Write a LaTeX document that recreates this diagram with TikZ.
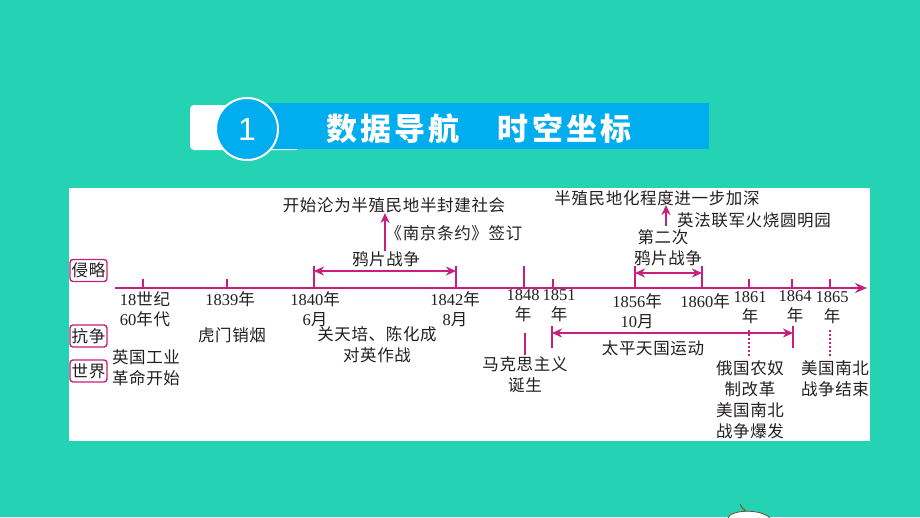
\documentclass[tikz,border=0pt]{standalone}
\usepackage{fontspec}
\setmainfont{Liberation Serif}
\newfontfamily\cjk{Noto Sans CJK SC}[LetterSpace=4]
\newfontfamily\cjkhead{Noto Sans CJK SC}[LetterSpace=10]
\newfontfamily\hsans{Liberation Sans}
\usetikzlibrary{arrows.meta}
\definecolor{bgteal}{RGB}{35,211,180}
\definecolor{barblue}{RGB}{0,174,239}
\definecolor{mag}{RGB}{200,30,125}
\definecolor{ink}{RGB}{35,31,32}
\tikzset{
  lbl/.style={font=\fontsize{16.5}{21}\selectfont\cjk, text=ink, inner sep=0pt, align=center},
  numlbl/.style={font=\fontsize{16.5}{20}\selectfont, text=ink, inner sep=0pt, align=center},
  tag/.style={draw=mag, line width=1.4pt, rounded corners=3pt, fill=white, minimum width=37pt, minimum height=22pt, inner sep=0pt, font=\fontsize{16.5}{17}\selectfont\cjk, text=ink},
  tickline/.style={draw=mag, line width=1.8pt},
  darrow/.style={draw=mag, line width=1.8pt, {Stealth[length=10pt,width=9pt]}-{Stealth[length=10pt,width=9pt]}},
  uparrow/.style={draw=mag, line width=1.8pt, -{Stealth[length=10pt,width=9pt]}},
  dotline/.style={draw=mag, line width=1.6pt, dash pattern=on 2pt off 2pt},
}
\begin{document}
\begin{tikzpicture}[x=1pt,y=-1pt]
\fill[bgteal] (0,0) rectangle (920,517);
\useasboundingbox (0,0) rectangle (920,517);
% header
\fill[white, rounded corners=4pt] (190,105) rectangle (300,150);
\fill[barblue] (262,103) rectangle (709,149);
\node[circle, fill=barblue, draw=white, line width=2pt, minimum size=62pt, inner sep=0pt, text=white, font=\hsans\fontsize{32}{32}\selectfont] (num) at (247,129) {1};
\node[text=white, inner sep=0pt, font=\cjkhead\bfseries\fontsize{31}{31}\selectfont] (title) at (479,129) {数据导航\hspace{38pt}时空坐标};
% panel
\fill[white] (69,188) rectangle (870,441);
% tags
\node[tag] (qinlue) at (88.5,270.5) {侵略};
\node[tag] (kangzheng) at (88.5,336) {抗争};
\node[tag] (shijie) at (88.5,371) {世界};
% axis
\coordinate (axs) at (115,288);
\coordinate (axe) at (867,288);
\draw[draw=mag, line width=1.8pt, -{Stealth[length=12pt,width=10pt]}] (axs) -- (axe);
% tick coordinates
\coordinate (t18) at (143,288);
\coordinate (t1839) at (227,288);
\coordinate (t1840) at (314,288);
\coordinate (t1842) at (456,288);
\coordinate (t1848) at (524,288);
\coordinate (t1851) at (553,288);
\coordinate (t1856) at (635,288);
\coordinate (t1860) at (702,288);
\coordinate (t1861) at (749,288);
\coordinate (t1864) at (792,288);
\coordinate (t1865) at (830,288);
\foreach \t in {t18,t1839,t1851,t1861,t1864,t1865}
  \draw[tickline] (\t) -- ++(0,-9);
\foreach \t in {t1840,t1842,t1848,t1856,t1860}
  \draw[tickline] (\t) -- ++(0,-22);
% first opium war
\coordinate (ow1a) at (314,271);
\coordinate (ow1b) at (456,271);
\draw[darrow] (ow1a) -- (ow1b);
\node[lbl] (ow1) at (386,259) {鸦片战争};
\node[lbl] (semi) at (394,205) {开始沦为半殖民地半封建社会};
\node[lbl] (nanjing) at (454,233) {《南京条约》签订};
\coordinate (up1s) at (385,251);
\coordinate (up1e) at (385,213);
\draw[uparrow] (up1s) -- (up1e);
% second opium war
\coordinate (ow2a) at (635,273);
\coordinate (ow2b) at (702,273);
\draw[darrow] (ow2a) -- (ow2b);
\node[lbl] (ow2) at (668,258) {鸦片战争};
\node[lbl] (dier) at (663,237) {第二次};
\node[lbl] (deep) at (657,198) {半殖民地化程度进一步加深};
\node[lbl] (yuanming) at (754,220) {英法联军火烧圆明园};
\coordinate (up2s) at (666,226);
\coordinate (up2e) at (666,205);
\draw[uparrow] (up2s) -- (up2e);
% date labels
\node[numlbl] (d18) at (145,309) {18{\cjk 世纪}\\60{\cjk 年代}};
\node[numlbl] (d1839) at (230,299) {1839{\cjk 年}};
\node[numlbl] (d1840) at (315,309) {1840{\cjk 年}\\6{\cjk 月}};
\node[numlbl] (d1842) at (455,309) {1842{\cjk 年}\\8{\cjk 月}};
\node[numlbl] (d1848) at (523,306) {1848\\{\cjk 年}};
\node[numlbl] (d1851) at (559,306) {1851\\{\cjk 年}};
\node[numlbl] (d1856) at (637,311) {1856{\cjk 年}\\10{\cjk 月}};
\node[numlbl] (d1860) at (705,301) {1860{\cjk 年}};
\node[numlbl] (d1861) at (750,308) {1861\\{\cjk 年}};
\node[numlbl] (d1864) at (795,307) {1864\\{\cjk 年}};
\node[numlbl] (d1865) at (832,308) {1865\\{\cjk 年}};
% events below
\node[lbl] (humen) at (232,335) {虎门销烟};
\node[lbl] (guan) at (377,345) {关天培、陈化成\\对英作战};
\node[lbl] (yingguo) at (146,368) {英国工业\\革命开始};
% Marxism
\coordinate (mx1) at (525,333);
\coordinate (mx2) at (525,355);
\draw[tickline] (mx1) -- (mx2);
\node[lbl] (marx) at (525,375) {马克思主义\\诞生};
% Taiping
\coordinate (tp1a) at (552,326);
\coordinate (tp1b) at (552,348);
\coordinate (tp2a) at (793,326);
\coordinate (tp2b) at (793,348);
\draw[tickline] (tp1a) -- (tp1b);
\draw[tickline] (tp2a) -- (tp2b);
\coordinate (tpa) at (552,333);
\coordinate (tpb) at (793,333);
\draw[darrow] (tpa) -- (tpb);
\node[lbl] (taiping) at (653,348) {太平天国运动};
% dotted lines
\coordinate (dt1a) at (749,330);
\coordinate (dt1b) at (749,358);
\coordinate (dt2a) at (830,330);
\coordinate (dt2b) at (830,358);
\draw[dotline] (dt1a) -- (dt1b);
\draw[dotline] (dt2a) -- (dt2b);
\node[lbl] (russia) at (750,400) {俄国农奴\\制改革\\美国南北\\战争爆发};
\node[lbl] (usend) at (835,379) {美国南北\\战争结束};
% bottom decoration
\filldraw[fill=white, draw=brown!60!black, line width=0.8pt] (728,518) .. controls (730,510) and (760,508) .. (770,518);
\draw[brown!60!black, line width=0.9pt] (740,504) .. controls (741,507) and (743,509) .. (746,511);
\end{tikzpicture}
\end{document}
